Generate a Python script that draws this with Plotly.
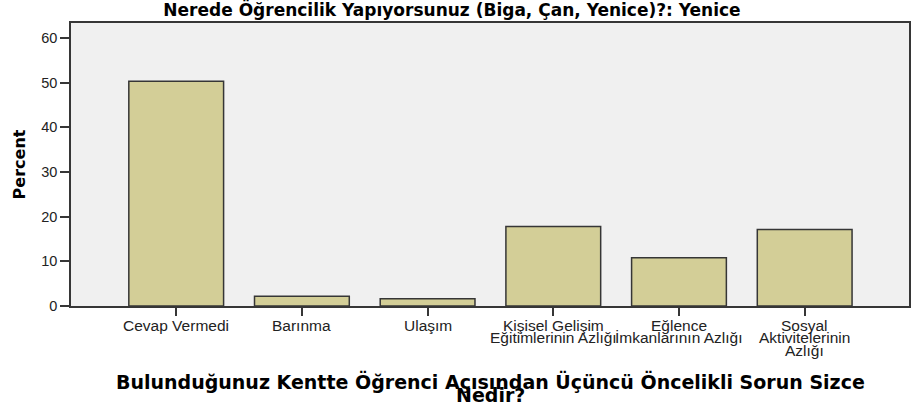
import plotly.graph_objects as go

# Survey responses (percent) for Yenice students
categories = [
    "Cevap Vermedi",
    "Barınma",
    "Ulaşım",
    "Kişisel Gelişim<br>Eğitimlerinin Azlığı",
    "Eğlence<br>İmkanlarının Azlığı",
    "Sosyal<br>Aktivitelerinin<br>Azlığı",
]
percent = [50.3, 2.2, 1.6, 17.8, 10.8, 17.1]
y_ticks = [0, 10, 20, 30, 40, 50, 60]

title_text = "Nerede Öğrencilik Yapıyorsunuz (Biga, Çan, Yenice)?: Yenice"
x_title_lines = ["Bulunduğunuz Kentte Öğrenci Açısından Üçüncü Öncelikli Sorun Sizce", "Nedir?"]

BOLD_FONT = "DejaVu Sans, Verdana, sans-serif"
TICK_FONT = "Liberation Sans, Arial, sans-serif"
EDGE = "#363636"

W, H = 913, 416
M_L, M_R, M_T, M_B = 71, 2, 23, 110
PLOT_H = H - M_T - M_B


def paper_y(px):
    """Convert a pixel row (from the top of the page) to paper coordinates."""
    return (H - M_B - px) / PLOT_H


fig = go.Figure(
    go.Bar(
        x=list(range(len(categories))),
        y=percent,
        width=0.754,
        marker=dict(color="#d3ce97", line=dict(color=EDGE, width=1.5)),
        hoverinfo="y",
    )
)

fig.update_layout(
    width=W,
    height=H,
    margin=dict(l=M_L, r=M_R, t=M_T, b=M_B),
    paper_bgcolor="white",
    plot_bgcolor="#f0f0f0",
    showlegend=False,
    font=dict(family=TICK_FONT, color="#222"),
    title=dict(
        text="<b>" + title_text + "</b>",
        x=452 / W,
        xanchor="center",
        xref="container",
        y=1 - 10 / H,
        yanchor="middle",
        font=dict(family=BOLD_FONT, size=17, color="black"),
    ),
)

fig.update_xaxes(
    range=[-0.837, 5.83],
    tickmode="array",
    tickvals=list(range(len(categories))),
    ticktext=[""] * len(categories),
    ticks="outside",
    ticklen=8,
    tickwidth=1.5,
    tickcolor=EDGE,
    showline=True,
    linecolor=EDGE,
    linewidth=1.5,
    mirror=True,
    showgrid=False,
    zeroline=False,
    fixedrange=True,
)

fig.update_yaxes(
    range=[0, 63.36],
    tickmode="array",
    tickvals=y_ticks,
    ticks="outside",
    ticklen=9,
    tickwidth=1.5,
    tickcolor=EDGE,
    tickfont=dict(family=TICK_FONT, size=14.5, color="#222"),
    showline=True,
    linecolor=EDGE,
    linewidth=1.5,
    mirror=True,
    showgrid=False,
    zeroline=False,
    title=dict(text="<b>Percent</b>", font=dict(family=BOLD_FONT, size=16, color="black"), standoff=12),
    fixedrange=True,
)

# Category labels, one annotation per line for compact line spacing
for i, label in enumerate(categories):
    for j, line in enumerate(label.split("<br>")):
        fig.add_annotation(
            text=line,
            xref="x",
            yref="paper",
            x=i,
            y=paper_y(325 + 12.5 * j),
            xanchor="center",
            yanchor="middle",
            showarrow=False,
            font=dict(family=TICK_FONT, size=15.5, color="#222"),
        )

# Two-line x-axis title with tight line spacing
for line, ypx in zip(x_title_lines, [381, 395]):
    fig.add_annotation(
        text="<b>" + line + "</b>",
        xref="paper",
        yref="paper",
        x=0.5,
        y=paper_y(ypx),
        xanchor="center",
        yanchor="middle",
        showarrow=False,
        font=dict(family=BOLD_FONT, size=19, color="black"),
    )

fig.write_html("out.html")
